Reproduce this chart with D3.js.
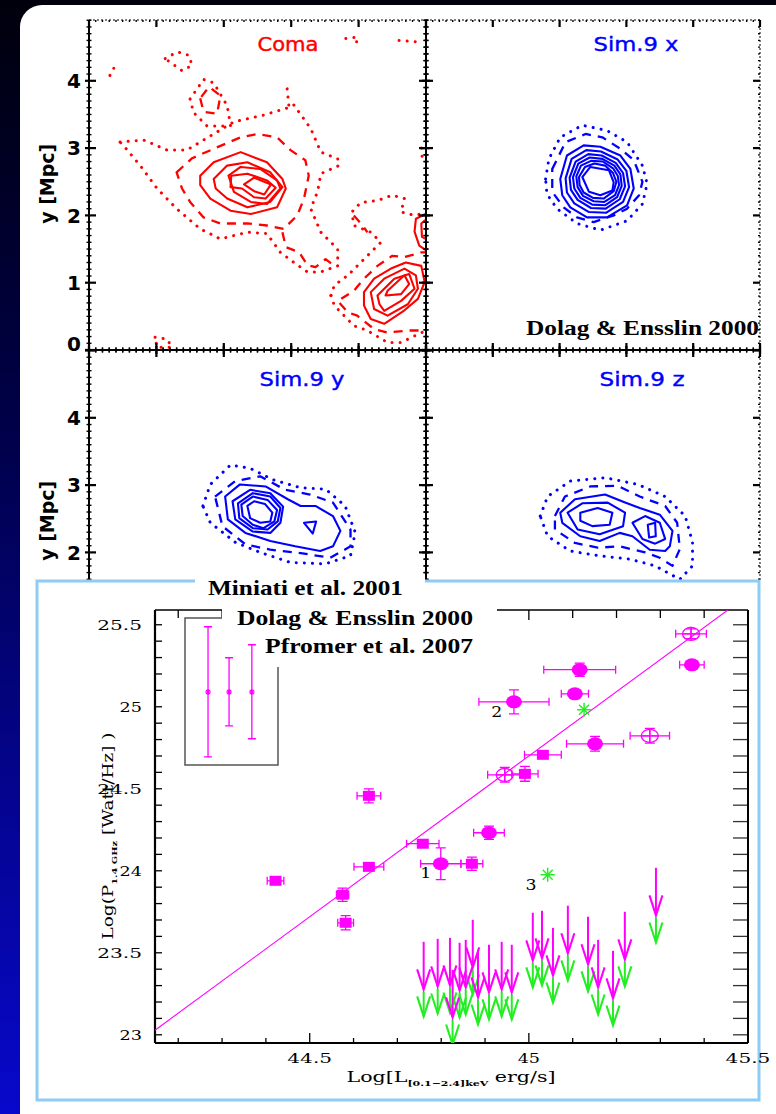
<!doctype html>
<html>
<head>
<meta charset="utf-8">
<title>radio halos</title>
<script src="https://cdn.jsdelivr.net/npm/d3@7"></script>
<style>
	body { margin: 0; background: #000; }
	svg { display: block; }
</style>
</head>
<body>
<script>
// ---------- contour maps (Mpc), level 0 = dotted, 1 = dashed, 2 = solid ----------
var comaLines = [
	{level: 2, pts: [[1.65,2.59],[1.85,2.79],[2.25,2.94],[2.64,2.79],[2.87,2.54],[2.92,2.40],[2.79,2.12],[2.40,2.02],[2.10,2.07],[1.80,2.25],[1.65,2.45]]},
	{level: 2, pts: [[1.85,2.54],[2.05,2.74],[2.35,2.79],[2.69,2.64],[2.87,2.42],[2.69,2.20],[2.35,2.12],[2.05,2.25],[1.88,2.40]]},
	{level: 2, pts: [[2.07,2.59],[2.25,2.72],[2.54,2.69],[2.79,2.52],[2.84,2.40],[2.64,2.17],[2.40,2.20],[2.15,2.35]]},
	{level: 2, pts: [[2.10,2.42],[2.11,2.59],[2.35,2.62],[2.64,2.52],[2.77,2.41],[2.62,2.25],[2.45,2.27],[2.27,2.40]]},
	{level: 2, pts: [[2.30,2.46],[2.45,2.56],[2.70,2.46],[2.60,2.31],[2.45,2.36]]},
	{level: 2, pts: [[4.08,0.86],[4.23,1.06],[4.48,1.21],[4.70,1.30],[4.93,1.25],[4.98,1.01],[4.88,0.76],[4.68,0.59],[4.38,0.39],[4.18,0.46],[4.08,0.66]]},
	{level: 2, pts: [[4.18,0.86],[4.38,1.06],[4.68,1.21],[4.85,1.11],[4.88,0.91],[4.73,0.68],[4.43,0.51],[4.23,0.61]]},
	{level: 2, pts: [[4.28,0.81],[4.53,1.06],[4.75,1.13],[4.83,0.91],[4.63,0.73],[4.38,0.58],[4.31,0.68]]},
	{level: 2, pts: [[4.43,0.88],[4.68,1.11],[4.75,0.98],[4.63,0.83],[4.40,0.81]]},
	{level: 2, open: true, pts: [[5.05,2.05],[4.85,1.95],[4.83,1.76],[4.90,1.55],[5.05,1.45]]},
	{level: 2, open: true, pts: [[5.05,1.98],[4.93,1.88],[4.94,1.68],[5.05,1.62]]},
	{level: 1, pts: [[1.30,2.64],[1.53,2.85],[1.85,2.99],[2.25,3.16],[2.50,3.21],[2.79,3.16],[2.99,2.97],[3.21,2.82],[3.26,2.59],[3.19,2.25],[3.09,2.00],[2.89,1.80],[2.64,1.85],[2.35,1.88],[1.95,1.88],[1.70,1.97],[1.50,2.20],[1.38,2.40]]},
	{level: 1, open: true, pts: [[2.87,1.75],[2.92,1.53],[3.12,1.45],[3.24,1.26],[3.36,1.23],[3.51,1.35],[3.64,1.25]]},
	{level: 1, pts: [[1.65,3.74],[1.70,3.54],[1.90,3.51],[1.95,3.78],[1.78,3.91]]},
	{level: 1, open: true, pts: [[5.05,1.45],[4.93,1.45],[4.68,1.38],[4.50,1.40],[4.28,1.25],[4.08,1.06],[3.93,0.88],[3.69,0.73],[3.84,0.56],[3.98,0.51],[4.23,0.31],[4.43,0.26],[4.76,0.29],[5.05,0.29]]},
	{level: 1, open: true, pts: [[3.93,2.00],[4.06,1.85],[4.13,1.75]]},
	{level: 0, pts: [[0.46,3.09],[0.81,3.12],[1.16,2.97],[1.45,2.97],[1.70,3.12],[2.15,3.39],[2.59,3.49],[2.99,3.61],[3.04,3.64],[3.29,3.29],[3.44,2.94],[3.69,2.84],[3.71,2.74],[3.44,2.62],[3.39,2.35],[3.29,2.10],[3.44,1.75],[3.69,1.50],[3.69,1.25],[3.44,1.16],[3.24,1.16],[3.04,1.30],[2.84,1.45],[2.64,1.73],[2.35,1.75],[1.95,1.65],[1.65,1.80],[1.30,2.10],[1.01,2.40],[0.76,2.74],[0.51,3.04]]},
	{level: 0, open: true, pts: [[2.94,3.88],[2.97,3.58]]},
	{level: 0, pts: [[1.13,4.33],[1.31,4.43],[1.48,4.38],[1.53,4.23],[1.38,4.15]]},
	{level: 0, pts: [[1.50,3.73],[1.70,4.02],[1.85,3.97],[2.05,3.63],[2.10,3.33],[1.75,3.33],[1.55,3.53]]},
	{level: 0, open: true, pts: [[0.31,4.08],[0.38,4.21]]},
	{level: 0, open: true, pts: [[3.81,4.63],[3.98,4.65],[3.96,4.50]]},
	{level: 0, open: true, pts: [[4.60,4.60],[4.85,4.58]]},
	{level: 0, open: true, pts: [[3.59,0.81],[3.64,0.96],[3.84,1.11],[4.03,1.30],[4.18,1.45],[4.33,1.60],[4.18,1.75],[3.93,1.85],[3.90,2.05],[4.03,2.19],[4.28,2.22],[4.50,2.30],[4.68,2.25],[4.63,2.05],[4.83,2.00],[5.05,2.05]]},
	{level: 0, open: true, pts: [[3.59,0.81],[3.64,0.66],[3.93,0.36],[4.13,0.29],[4.43,0.11],[4.63,0.11],[4.83,0.21],[5.05,0.31]]},
	{level: 0, pts: [[0.98,0.19],[1.16,0.16],[1.23,0.04],[1.01,0.04]]},
	{level: 0, open: true, pts: [[4.93,3.00],[4.95,2.80]]}
]

var sim9xLines = [
	{level: 2, pts: [[2.01,2.54],[2.11,2.89],[2.36,3.04],[2.61,3.02],[2.91,2.89],[3.06,2.69],[3.11,2.40],[3.01,2.15],[2.71,1.97],[2.41,1.97],[2.16,2.12],[2.04,2.30]]},
	{level: 2, pts: [[2.09,2.55],[2.18,2.84],[2.40,2.97],[2.62,2.95],[2.87,2.83],[3.00,2.66],[3.04,2.42],[2.95,2.20],[2.70,2.04],[2.44,2.05],[2.22,2.18],[2.11,2.34]]},
	{level: 2, pts: [[2.15,2.56],[2.24,2.80],[2.43,2.91],[2.63,2.89],[2.84,2.78],[2.95,2.63],[2.98,2.43],[2.90,2.24],[2.69,2.10],[2.47,2.11],[2.27,2.23],[2.17,2.38]]},
	{level: 2, pts: [[2.20,2.57],[2.28,2.77],[2.45,2.86],[2.64,2.84],[2.82,2.74],[2.91,2.61],[2.93,2.44],[2.86,2.27],[2.68,2.15],[2.49,2.16],[2.31,2.26],[2.22,2.40]]},
	{level: 2, pts: [[2.25,2.58],[2.32,2.74],[2.47,2.81],[2.65,2.80],[2.80,2.70],[2.87,2.59],[2.89,2.45],[2.83,2.30],[2.67,2.20],[2.51,2.21],[2.35,2.29],[2.27,2.42]]},
	{level: 2, pts: [[2.29,2.57],[2.38,2.72],[2.52,2.77],[2.68,2.74],[2.80,2.63],[2.85,2.50],[2.81,2.36],[2.66,2.25],[2.50,2.26],[2.36,2.34],[2.30,2.45]]},
	{level: 2, pts: [[2.34,2.57],[2.46,2.72],[2.74,2.67],[2.81,2.49],[2.79,2.37],[2.61,2.30],[2.44,2.35]]},
	{level: 1, pts: [[1.89,2.69],[2.09,3.09],[2.39,3.21],[2.64,3.16],[2.91,2.99],[3.11,2.82],[3.24,2.50],[3.19,2.30],[3.01,2.10],[2.81,2.00],[2.51,1.90],[2.26,1.97],[2.06,2.12],[1.89,2.35]]},
	{level: 0, pts: [[1.79,2.54],[1.84,2.84],[2.01,3.16],[2.34,3.34],[2.71,3.26],[3.01,3.09],[3.24,2.74],[3.31,2.47],[3.24,2.17],[3.01,1.92],[2.61,1.78],[2.26,1.88],[1.96,2.10],[1.81,2.32]]}
]

var sim9yLines = [
	{level: 2, pts: [[2.02,2.83],[2.24,3.01],[2.62,2.98],[2.95,2.79],[3.14,2.69],[3.36,2.69],[3.62,2.54],[3.73,2.32],[3.62,2.09],[3.43,2.02],[3.06,2.09],[2.69,2.17],[2.32,2.29],[2.06,2.49]]},
	{level: 2, pts: [[2.13,2.76],[2.39,2.93],[2.69,2.88],[2.88,2.68],[2.84,2.44],[2.69,2.29],[2.43,2.31],[2.17,2.49]]},
	{level: 2, pts: [[2.21,2.73],[2.43,2.88],[2.69,2.83],[2.84,2.66],[2.80,2.46],[2.65,2.34],[2.43,2.36],[2.23,2.51]]},
	{level: 2, pts: [[2.26,2.71],[2.43,2.83],[2.65,2.78],[2.79,2.63],[2.75,2.46],[2.59,2.36],[2.43,2.41],[2.28,2.54]]},
	{level: 2, pts: [[2.35,2.69],[2.45,2.76],[2.61,2.72],[2.72,2.59],[2.69,2.46],[2.54,2.44],[2.39,2.51]]},
	{level: 2, pts: [[3.19,2.44],[3.37,2.46],[3.32,2.28]]},
	{level: 1, pts: [[1.87,2.83],[2.17,3.06],[2.54,3.13],[2.91,2.93],[3.28,2.86],[3.62,2.74],[3.88,2.34],[3.88,2.09],[3.58,1.92],[3.14,1.99],[2.69,2.04],[2.32,2.12],[1.98,2.39]]},
	{level: 0, pts: [[1.69,2.69],[1.80,3.01],[2.10,3.30],[2.39,3.25],[2.73,3.08],[3.14,2.96],[3.51,2.94],[3.80,2.69],[3.95,2.30],[3.88,1.95],[3.51,1.83],[2.99,1.85],[2.54,2.00],[2.17,2.15],[1.80,2.44]]}
]

var sim9zLines = [
	{level: 2, pts: [[2.01,2.59],[2.23,2.79],[2.68,2.86],[2.98,2.74],[3.20,2.66],[3.50,2.56],[3.69,2.32],[3.65,2.09],[3.58,2.02],[3.35,2.04],[3.09,2.24],[2.90,2.29],[2.60,2.17],[2.31,2.24],[2.04,2.44]]},
	{level: 2, pts: [[2.12,2.59],[2.34,2.73],[2.72,2.74],[2.98,2.59],[2.95,2.39],[2.60,2.27],[2.27,2.34]]},
	{level: 2, pts: [[2.31,2.59],[2.57,2.66],[2.79,2.59],[2.75,2.41],[2.49,2.39],[2.31,2.47]]},
	{level: 2, pts: [[3.09,2.44],[3.28,2.54],[3.50,2.44],[3.58,2.20],[3.43,2.13],[3.24,2.20]]},
	{level: 2, pts: [[3.32,2.41],[3.43,2.44],[3.44,2.24],[3.34,2.22]]},
	{level: 1, pts: [[1.93,2.54],[2.08,2.83],[2.46,2.98],[2.87,2.99],[3.20,2.83],[3.58,2.69],[3.76,2.44],[3.80,2.05],[3.69,1.80],[3.50,1.92],[3.28,2.00],[2.90,2.09],[2.57,2.07],[2.23,2.14],[1.93,2.34]]},
	{level: 0, pts: [[1.71,2.54],[1.82,2.83],[2.16,3.06],[2.68,3.11],[3.17,3.01],[3.58,2.83],[3.88,2.54],[3.99,2.15],[3.99,1.80],[3.80,1.60],[3.43,1.80],[3.05,1.90],[2.60,1.95],[2.16,2.02],[1.82,2.24]]}
]

// ---------- radio power vs X-ray luminosity ----------
var sqX = [44.422, 44.575, 44.635, 44.582, 44.635, 44.758, 44.870, 44.991, 45.032]
var sqY = [23.939, 23.854, 24.024, 23.683, 24.457, 24.165, 24.043, 24.591, 24.707]
var sqXerr = [0.019, 0.014, 0.034, 0.018, 0.027, 0.037, 0.025, 0.030, 0.042]
var sqYerr = [0.012, 0.040, 0.012, 0.043, 0.043, 0.010, 0.040, 0.045, 0.010]

var dotX = [44.799, 44.909, 44.966, 45.116, 45.105, 45.151, 45.372]
var dotY = [24.043, 24.232, 25.030, 25.226, 25.079, 24.774, 25.256]
var dotXerr = [0.046, 0.035, 0.080, 0.082, 0.031, 0.065, 0.028]
var dotYerr = [0.097, 0.040, 0.073, 0.040, 0.015, 0.045, 0.015]

var ringX = [44.945, 45.276, 45.370]
var ringY = [24.585, 24.823, 25.445]
var ringXerr = [0.039, 0.045, 0.035]
var ringYerr = [0.045, 0.045, 0.030]

var simX = [45.126, 45.043]
var simY = [24.982, 23.976]

var ulX = [44.760, 44.792, 44.820, 44.826, 44.842, 44.856, 44.872, 44.884, 44.909, 44.938, 44.961, 45.009, 45.030, 45.055, 45.089, 45.135, 45.158, 45.192, 45.219, 45.290]
var ulY = [23.567, 23.585, 23.591, 23.396, 23.561, 23.579, 23.701, 23.518, 23.549, 23.567, 23.549, 23.744, 23.756, 23.652, 23.787, 23.720, 23.579, 23.512, 23.750, 24.018]

var noteText = ["1", "2", "3"]
var noteX = [44.765, 44.927, 45.005]
var noteY = [23.988, 24.970, 23.915]

var fitSlope = 1.96
var fitAt45 = 24.70

var keyNames = ["Miniati et al. 2001", "Dolag & Ensslin 2000", "Pfromer et al. 2007"]
var keyX = [44.268, 44.316, 44.368]
var keyMid = [25.09, 25.09, 25.09]
var keyLow = [24.695, 24.884, 24.805]
var keyHigh = [25.488, 25.299, 25.378]

var yTickVals = [23, 23.5, 24, 24.5, 25, 25.5]
var xTickVals = [44.5, 45, 45.5]

// ---------- page ----------
var W = 776, H = 1114
var svg = d3.select("body").append("svg").attr("width", W).attr("height", H)
var defs = svg.append("defs")
var grad = defs.append("linearGradient").attr("id", "bg")
	.attr("x1", 0).attr("y1", 0).attr("x2", 0).attr("y2", 1)
grad.append("stop").attr("offset", "0%").attr("stop-color", "#00000c")
grad.append("stop").attr("offset", "40%").attr("stop-color", "#00004c")
grad.append("stop").attr("offset", "100%").attr("stop-color", "#0808cc")
svg.append("rect").attr("width", W).attr("height", H).attr("fill", "url(#bg)")
svg.append("rect").attr("x", 20).attr("y", 5).attr("width", 790).attr("height", 1130)
	.attr("rx", 22).attr("fill", "white")

// ---------- contour panels ----------
var cols = [[89, 426], [426, 760]]
var rows = [{top: 20, zero: 350, bottom: 350}, {top: 350, zero: 687, bottom: 687}]
var PX = 67.3
var panels = [
	{label: "Coma", color: "#ff0000", lines: comaLines, col: 0, row: 0, lx: 288},
	{label: "Sim.9  x", color: "#0000ff", lines: sim9xLines, col: 1, row: 0, lx: 636},
	{label: "Sim.9  y", color: "#0000ff", lines: sim9yLines, col: 0, row: 1, lx: 302},
	{label: "Sim.9  z", color: "#0000ff", lines: sim9zLines, col: 1, row: 1, lx: 642}
]
var styleOf = [
	{dash: "0.1,8", width: 3, cap: "round"},
	{dash: "9,7", width: 2.3, cap: "butt"},
	{dash: null, width: 2.1, cap: "butt"}
]

panels.forEach(function(p, k) {
	var c = cols[p.col], r = rows[p.row]
	var px = d3.scaleLinear().domain([0, 5]).range([c[0], c[1]])
	var py = d3.scaleLinear().domain([0, 5]).range([r.zero, r.zero - 5 * PX])
	var clipBottom = Math.min(r.bottom, 581)
	defs.append("clipPath").attr("id", "pc" + k).append("rect")
		.attr("x", c[0]).attr("y", r.top).attr("width", c[1] - c[0]).attr("height", clipBottom - r.top)
	var g = svg.append("g")
	var inner = g.append("g").attr("clip-path", "url(#pc" + k + ")")
	p.lines.forEach(function(l) {
		var st = styleOf[l.level]
		var line = d3.line().x(function(d) { return px(d[0]) }).y(function(d) { return py(d[1]) })
			.curve(l.open ? d3.curveLinear : d3.curveLinearClosed)
		inner.append("path").attr("d", line(l.pts))
			.attr("fill", "none").attr("stroke", p.color)
			.attr("stroke-width", st.width).attr("stroke-linecap", st.cap)
			.attr("stroke-linejoin", "round")
			.attr("stroke-dasharray", st.dash)
	})
	inner.append("text").attr("x", p.lx).attr("y", p.row == 0 ? 51 : 386)
		.attr("text-anchor", "middle").attr("font-family", "DejaVu Sans").attr("font-size", 19)
		.attr("fill", p.color).attr("stroke", p.color).attr("stroke-width", 0.4)
		.attr("textLength", p.label == "Coma" ? 61 : 85)
		.attr("lengthAdjust", "spacingAndGlyphs").text(p.label)

	// frame edges: thick on shared/left edges, thin dotted on outer top/right
	var ticks = d3.range(0, 51).map(function(i) { return i / 10 })
	function edge(horizontal, pos, thick, inward) {
		var vals = ticks.filter(function(v) {
			var q = horizontal ? px(v) : py(v)
			return horizontal ? (q >= c[0] && q <= c[1]) : (q >= r.top && q <= clipBottom)
		})
		if (horizontal) {
			g.append("line").attr("x1", c[0]).attr("x2", c[1]).attr("y1", pos).attr("y2", pos)
				.attr("stroke", "black").attr("stroke-width", thick ? 2 : 1)
				.attr("stroke-dasharray", thick ? null : "2,2")
		} else {
			g.append("line").attr("y1", r.top).attr("y2", clipBottom).attr("x1", pos).attr("x2", pos)
				.attr("stroke", "black").attr("stroke-width", thick ? 2 : 1)
				.attr("stroke-dasharray", thick ? null : "2,2")
		}
		vals.forEach(function(v) {
			var major = Math.abs(v - Math.round(v)) < 1e-6
			var a = thick ? -2.5 : 0, b = thick ? 2.5 : 2
			if (major) { a = thick ? -4 : 0; b = 7 }
			var q = horizontal ? px(v) : py(v)
			if (horizontal) {
				g.append("line").attr("x1", q).attr("x2", q)
					.attr("y1", pos - a * inward).attr("y2", pos - b * inward)
					.attr("stroke", "black").attr("stroke-width", major ? 2.2 : 1.4)
			} else {
				g.append("line").attr("y1", q).attr("y2", q)
					.attr("x1", pos + a * inward).attr("x2", pos + b * inward)
					.attr("stroke", "black").attr("stroke-width", major ? 2.2 : 1.4)
			}
		})
	}
	edge(false, c[0], true, 1)
	edge(false, c[1], p.col == 0, -1)
	edge(true, r.top, p.row == 1, -1)
	if (p.row == 0) edge(true, r.bottom, true, 1)

	if (p.col == 0) {
		d3.range(0, 5).forEach(function(v) {
			var yy = py(v)
			if (p.row == 0 && v == 0) yy -= 6
			g.append("text").attr("x", 81).attr("y", yy).attr("dy", "0.36em")
				.attr("text-anchor", "end").attr("font-family", "DejaVu Sans")
				.attr("font-weight", "bold").attr("font-size", 20).text(v)
		})
		g.append("text").attr("transform", "translate(54," + py(2.47) + ") rotate(-90)")
			.attr("text-anchor", "middle").attr("font-family", "DejaVu Sans")
			.attr("font-weight", "bold").attr("font-size", 19).text("y [Mpc]")
	}
})

svg.append("text").attr("x", 526).attr("y", 335).attr("font-family", "Liberation Serif")
	.attr("font-weight", "bold").attr("font-size", 22).attr("textLength", 233)
	.attr("lengthAdjust", "spacingAndGlyphs").text("Dolag & Ensslin 2000")

// ---------- lower chart ----------
svg.append("rect").attr("x", 37).attr("y", 581).attr("width", 722).attr("height", 519)
	.attr("fill", "white").attr("stroke", "#8ecbf7").attr("stroke-width", 3)

var x = d3.scaleLinear().domain([44.147, 45.5]).range([155, 748])
var y = d3.scaleLinear().domain([22.95, 25.59]).range([1043, 610])
var MAG = "#ff00ff", GRN = "#22ee22"

defs.append("clipPath").attr("id", "plot").append("rect")
	.attr("x", 155).attr("y", 610).attr("width", 593).attr("height", 433)

var chart = svg.append("g")
var xMinor = d3.range(442, 455).map(function(i) { return i / 10 })
var yMinor = d3.range(230, 256).map(function(i) { return i / 10 })

xMinor.forEach(function(v) {
	var major = Math.abs(v * 2 - Math.round(v * 2)) < 1e-6
	chart.append("line").attr("x1", x(v)).attr("x2", x(v))
		.attr("y1", 1043).attr("y2", 1043 - (major ? 10 : 5)).attr("stroke", "black").attr("stroke-width", 1.3)
	chart.append("line").attr("x1", x(v)).attr("x2", x(v))
		.attr("y1", 610).attr("y2", 610 + (major ? 10 : 8)).attr("stroke", "black").attr("stroke-width", 1.3)
})
yMinor.forEach(function(v) {
	chart.append("line").attr("x1", 155).attr("x2", 162).attr("y1", y(v)).attr("y2", y(v))
		.attr("stroke", "black").attr("stroke-width", 1.3)
	chart.append("line").attr("x1", 748).attr("x2", 733).attr("y1", y(v)).attr("y2", y(v))
		.attr("stroke", "#333").attr("stroke-width", 1.3)
})
chart.append("line").attr("x1", 155).attr("x2", 748).attr("y1", 1043).attr("y2", 1043).attr("stroke", "black").attr("stroke-width", 2.2)
chart.append("line").attr("x1", 155).attr("x2", 748).attr("y1", 610).attr("y2", 610).attr("stroke", "black").attr("stroke-width", 1.6)
chart.append("line").attr("x1", 155).attr("x2", 155).attr("y1", 610).attr("y2", 1043).attr("stroke", "black").attr("stroke-width", 2.2)
chart.append("line").attr("x1", 748).attr("x2", 748).attr("y1", 610).attr("y2", 1043).attr("stroke", "black").attr("stroke-width", 2)

function tickLabel(txt, xx, yy, anchor) {
	var w = txt.length * 11.2
	var x0 = anchor == "end" ? xx - w : xx - w / 2
	chart.append("text").attr("x", x0).attr("y", yy).attr("font-family", "DejaVu Serif")
		.attr("font-size", 13).attr("textLength", w).attr("lengthAdjust", "spacingAndGlyphs").text(txt)
}
yTickVals.forEach(function(v) { tickLabel(String(v), 142, y(v) + 5, "end") })
xTickVals.forEach(function(v) { tickLabel(String(v), x(v), 1063, "middle") })

var yt = chart.append("text").attr("transform", "translate(113,836) rotate(-90)")
	.attr("text-anchor", "middle").attr("font-family", "DejaVu Serif").attr("font-size", 15)
	.attr("textLength", 207).attr("lengthAdjust", "spacingAndGlyphs")
yt.append("tspan").text("Log(P")
yt.append("tspan").attr("font-size", 8).attr("font-weight", "bold").attr("dy", 4).text("1.4 GHz")
yt.append("tspan").attr("dy", -4).text(" [Watt/Hz] )")

var xt = chart.append("text").attr("x", 451).attr("y", 1082)
	.attr("text-anchor", "middle").attr("font-family", "DejaVu Serif").attr("font-size", 15)
	.attr("textLength", 209).attr("lengthAdjust", "spacingAndGlyphs")
xt.append("tspan").text("Log[L")
xt.append("tspan").attr("font-size", 8).attr("font-weight", "bold").attr("dy", 4).text("[0.1\u22122.4]keV")
xt.append("tspan").attr("dy", -4).text(" erg/s]")

var plot = chart.append("g").attr("clip-path", "url(#plot)")

// best fit
var fitLine = d3.line().x(function(d) { return x(d) }).y(function(d) { return y(fitAt45 + fitSlope * (d - 45)) })
plot.append("path").attr("d", fitLine(x.domain())).attr("fill", "none").attr("stroke", MAG).attr("stroke-width", 1.1)

// upper limits (green first, magenta over it)
var ARROW = 0.29, GREEN = 0.165
function vhead(g, cx, tipY, color) {
	g.append("path").attr("d", "M" + (cx - 6.5) + "," + (tipY - 20) + "L" + cx + "," + tipY + "L" + (cx + 6.5) + "," + (tipY - 20))
		.attr("fill", "none").attr("stroke", color).attr("stroke-width", 2.1).attr("stroke-linejoin", "miter")
}
ulX.forEach(function(v, i) {
	var cx = x(v), tip = y(ulY[i] - ARROW), gtip = y(ulY[i] - ARROW - GREEN)
	plot.append("line").attr("x1", cx).attr("x2", cx).attr("y1", tip + 2).attr("y2", gtip)
		.attr("stroke", GRN).attr("stroke-width", 2)
	vhead(plot, cx, gtip, GRN)
})
ulX.forEach(function(v, i) {
	var cx = x(v), top = y(ulY[i]), tip = y(ulY[i] - ARROW)
	plot.append("line").attr("x1", cx).attr("x2", cx).attr("y1", top).attr("y2", tip)
		.attr("stroke", MAG).attr("stroke-width", 2)
	vhead(plot, cx, tip, MAG)
})

function errBars(g, xs, ys, xe, ye) {
	xs.forEach(function(v, i) {
		var cx = x(v), cy = y(ys[i]), x1 = x(v - xe[i]), x2 = x(v + xe[i]), y1 = y(ys[i] + ye[i]), y2 = y(ys[i] - ye[i])
		var d = "M" + x1 + "," + cy + "H" + x2 + "M" + x1 + "," + (cy - 4) + "V" + (cy + 4) + "M" + x2 + "," + (cy - 4) + "V" + (cy + 4)
			+ "M" + cx + "," + y1 + "V" + y2 + "M" + (cx - 5) + "," + y1 + "H" + (cx + 5) + "M" + (cx - 5) + "," + y2 + "H" + (cx + 5)
		g.append("path").attr("d", d).attr("fill", "none").attr("stroke", MAG).attr("stroke-width", 1.3)
	})
}
errBars(plot, sqX, sqY, sqXerr, sqYerr)
errBars(plot, dotX, dotY, dotXerr, dotYerr)
errBars(plot, ringX, ringY, ringXerr, ringYerr)

sqX.forEach(function(v, i) {
	plot.append("rect").attr("x", x(v) - 6).attr("y", y(sqY[i]) - 5).attr("width", 12).attr("height", 10).attr("fill", MAG)
})
dotX.forEach(function(v, i) {
	plot.append("ellipse").attr("cx", x(v)).attr("cy", y(dotY[i])).attr("rx", 8).attr("ry", 6.5).attr("fill", MAG)
})
ringX.forEach(function(v, i) {
	var cx = x(v), cy = y(ringY[i])
	plot.append("ellipse").attr("cx", cx).attr("cy", cy).attr("rx", 8.5).attr("ry", 6.5)
		.attr("fill", "none").attr("stroke", MAG).attr("stroke-width", 1.3)
	plot.append("path").attr("d", "M" + cx + "," + (cy - 7) + "V" + (cy + 7) + "M" + (cx - 9) + "," + cy + "H" + (cx + 9))
		.attr("stroke", MAG).attr("stroke-width", 1.3)
})

function star(g, cx, cy, r, color, w) {
	var d = ""
	for (var a = 0; a < 4; a++) {
		var t = a * Math.PI / 4
		d += "M" + (cx - r * Math.cos(t)) + "," + (cy - r * Math.sin(t)) + "L" + (cx + r * Math.cos(t)) + "," + (cy + r * Math.sin(t))
	}
	g.append("path").attr("d", d).attr("stroke", color).attr("stroke-width", w).attr("fill", "none")
}
simX.forEach(function(v, i) { star(plot, x(v), y(simY[i]), 7, GRN, 1.4) })

noteText.forEach(function(t, i) {
	plot.append("text").attr("x", x(noteX[i])).attr("y", y(noteY[i])).attr("dy", "0.35em")
		.attr("text-anchor", "middle").attr("font-family", "DejaVu Serif").attr("font-size", 15)
		.attr("textLength", 11).attr("lengthAdjust", "spacingAndGlyphs").text(t)
})

// simulation key
chart.append("rect").attr("x", 185).attr("y", 618).attr("width", 93).attr("height", 147)
	.attr("fill", "none").attr("stroke", "#555").attr("stroke-width", 1.5)
keyX.forEach(function(v, i) {
	var cx = x(v), y1 = y(keyHigh[i]), y2 = y(keyLow[i])
	chart.append("path").attr("d", "M" + cx + "," + y1 + "V" + y2 + "M" + (cx - 4) + "," + y1 + "H" + (cx + 4) + "M" + (cx - 4) + "," + y2 + "H" + (cx + 4))
		.attr("stroke", MAG).attr("stroke-width", 1.3).attr("fill", "none")
	star(chart, cx, y(keyMid[i]), 3, MAG, 1.2)
})

var keyBoxes = [[195, 576, 230, 25], [222, 601, 275, 32], [260, 633, 237, 34]]
var keyText = [[208, 595, 195], [237, 625, 236], [265, 653, 208]]
keyNames.forEach(function(n, i) {
	var b = keyBoxes[i]
	svg.append("rect").attr("x", b[0]).attr("y", b[1]).attr("width", b[2]).attr("height", b[3]).attr("fill", "white")
})
keyNames.forEach(function(n, i) {
	var t = keyText[i]
	svg.append("text").attr("x", t[0]).attr("y", t[1]).attr("font-family", "Liberation Serif")
		.attr("font-weight", "bold").attr("font-size", 21).attr("textLength", t[2])
		.attr("lengthAdjust", "spacingAndGlyphs").text(n)
})
</script>
</body>
</html>
